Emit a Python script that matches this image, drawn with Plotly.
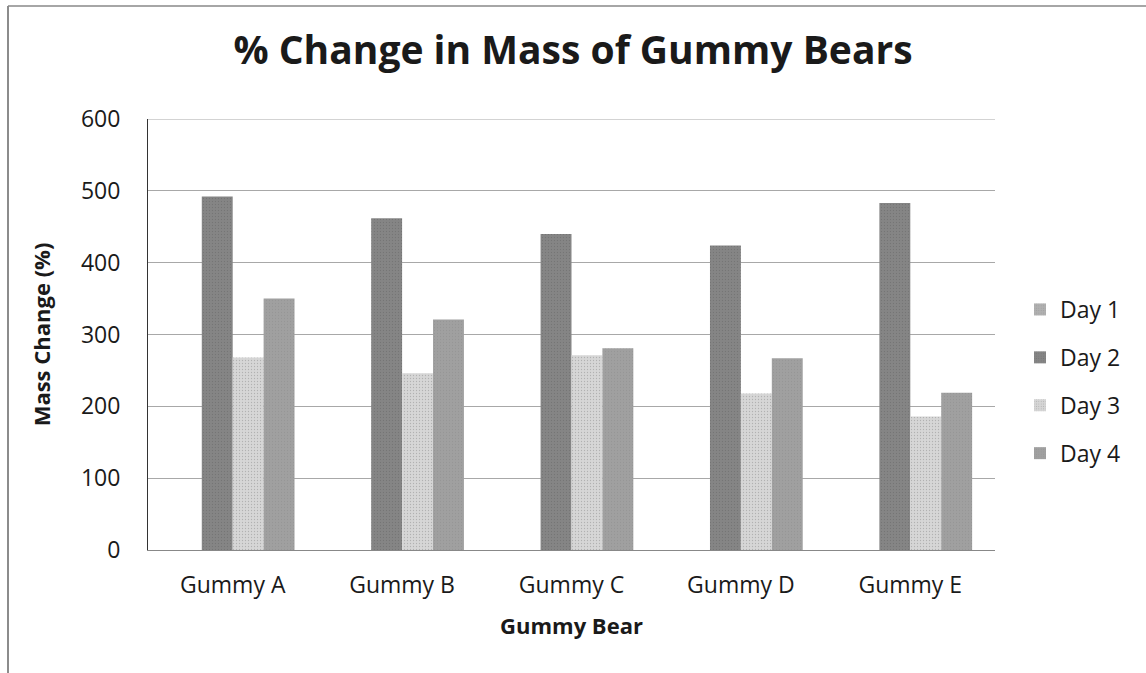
import plotly.graph_objects as go

# Data: percentage change in mass per gummy bear, per day
bears = ["Gummy A", "Gummy B", "Gummy C", "Gummy D", "Gummy E"]
day1 = [0, 0, 0, 0, 0]
day2 = [492, 462, 440, 424, 483]
day3 = [268, 246, 271, 218, 186]
day4 = [350, 321, 281, 267, 219]

series = [
    ("Day 1", day1, "#b0b0b0"),
    ("Day 2", day2, "#858585"),
    ("Day 3", day3, "#d6d6d6"),
    ("Day 4", day4, "#a0a0a0"),
]

FONT = "Open Sans"

fig = go.Figure()
for i, (name, vals, color) in enumerate(series):
    fig.add_trace(go.Bar(
        name=name,
        x=bears,
        y=vals,
        legendgroup=name,
        marker=dict(color=color, line=dict(width=0),
                    pattern=dict(shape=".", fgcolor="#666666" if i == 1 else "#8c8c8c",
                                 bgcolor=color, size=3, solidity=0.15)),
    ))

# Plot area in pixels: x 148..995, y 119..550
W, H = 1146, 673
L, R, T, B = 148, 151, 119, 123
pw, ph = W - L - R, H - T - B


def px_x(p):
    return (p - L) / pw


def px_y(p):
    return (H - B - p) / ph


fig.update_layout(
    width=W, height=H,
    margin=dict(l=L, r=R, t=T, b=B),
    paper_bgcolor="white",
    plot_bgcolor="white",
    barmode="group",
    bargap=0.27,
    bargroupgap=0,
    font=dict(family=FONT, size=23, color="#1a1a1a"),
    title=dict(text="<b>% Change in Mass of Gummy Bears</b>",
               x=0.5, xanchor="center", y=1 - 50 / H, yanchor="middle",
               font=dict(size=39, family=FONT, color="#1a1a1a")),
    legend=dict(x=px_x(1020), xanchor="left", y=px_y(288), yanchor="top",
                font=dict(size=23, family=FONT), tracegroupgap=15,
                traceorder="grouped", itemwidth=30,
                bgcolor="rgba(0,0,0,0)"),
    xaxis=dict(
        title=dict(text="<b>Gummy Bear</b>", font=dict(size=22, family=FONT), standoff=20),
        showline=True, linecolor="#888", linewidth=1,
        ticks="", ticklabelstandoff=14, tickfont=dict(size=23, family=FONT),
    ),
    yaxis=dict(
        title=dict(text="<b>Mass Change (%)</b>", font=dict(size=22, family=FONT), standoff=24),
        range=[0, 600], dtick=100,
        showline=True, linecolor="#333", linewidth=1,
        showgrid=True, gridcolor="#a8a8a8", gridwidth=1,
        zeroline=False,
        ticks="", ticklabelstandoff=22,
        tickfont=dict(size=23, family=FONT),
    ),
    shapes=[
        # top gridline at the axis maximum
        dict(type="line", xref="paper", yref="y", x0=0, x1=1, y0=600, y1=600,
             line=dict(color="#a8a8a8", width=1)),
        # chart border (left and top edges)
        dict(type="line", xref="paper", yref="paper",
             x0=px_x(8), x1=px_x(8), y0=px_y(6), y1=px_y(H + 2),
             line=dict(color="#666", width=1.5)),
        dict(type="line", xref="paper", yref="paper",
             x0=px_x(8), x1=px_x(W + 2), y0=px_y(6), y1=px_y(6),
             line=dict(color="#888", width=1.5)),
    ],
)

fig.write_html("out.html")
